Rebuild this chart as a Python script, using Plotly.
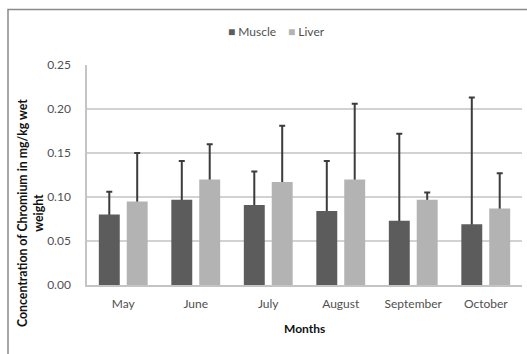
import plotly.graph_objects as go

months = ["May", "June", "July", "August", "September", "October"]
muscle = [0.080, 0.097, 0.091, 0.084, 0.073, 0.069]
muscle_err = [0.026, 0.044, 0.038, 0.057, 0.099, 0.144]
liver = [0.095, 0.120, 0.117, 0.120, 0.097, 0.087]
liver_err = [0.055, 0.040, 0.064, 0.086, 0.008, 0.040]
y_ticks = [0.00, 0.05, 0.10, 0.15, 0.20, 0.25]

MUSCLE_COLOR = "#5c5c5c"
LIVER_COLOR = "#b3b3b3"
ERR_COLOR = "#3c3c3c"
FONT = "Lato, 'Open Sans', sans-serif"

fig = go.Figure()
for name, vals, errs, color in [
    ("Muscle", muscle, muscle_err, MUSCLE_COLOR),
    ("Liver", liver, liver_err, LIVER_COLOR),
]:
    # upper-only error whiskers; the short lower stub sits inside the bar drawn over it
    fig.add_trace(go.Bar(
        x=months, y=vals, name=name + " error", offsetgroup=name,
        marker=dict(color="rgba(0,0,0,0)", line=dict(width=0)),
        error_y=dict(type="data", symmetric=False, array=errs,
                     arrayminus=[0.006] * len(errs),
                     color=ERR_COLOR, thickness=2, width=3),
        showlegend=False, hoverinfo="skip",
    ))
    fig.add_trace(go.Bar(
        x=months, y=vals, name=name, offsetgroup=name,
        marker=dict(color=color, line=dict(width=0)),
        showlegend=False,
    ))

W, H = 527, 354
L, R, T, B = 87, 5, 65, 69
pw, ph = W - L - R, H - T - B

def px(x):
    return (x - L) / pw

def py(y):
    return (H - B - y) / ph

fig.update_layout(
    width=W, height=H,
    margin=dict(l=L, r=R, t=T, b=B),
    paper_bgcolor="white", plot_bgcolor="white",
    barmode="group", bargap=0.23, bargroupgap=0.25,
    font=dict(family=FONT, size=12, color="#505050"),
    xaxis=dict(showgrid=False, showline=True, linecolor="#c4c4c4", linewidth=1.5,
               ticks="", ticklabelstandoff=7,
               tickfont=dict(size=12, color="#505050")),
    yaxis=dict(range=[0, 0.25], tickvals=y_ticks, tickformat=".2f",
               showgrid=True, gridcolor="#d2d2d2", gridwidth=1.5,
               showline=True, linecolor="#c4c4c4", linewidth=1.5,
               zeroline=False, ticks="", ticklabelstandoff=12,
               tickfont=dict(size=12, color="#505050")),
)

# chart frame
fig.add_shape(type="rect", xref="paper", yref="paper",
              x0=px(8), x1=px(540), y0=py(370), y1=py(9.5),
              line=dict(color="#8a8a8a", width=1.5), fillcolor="rgba(0,0,0,0)",
              layer="below")

# legend
legend_items = [("Muscle", MUSCLE_COLOR, 226), ("Liver", LIVER_COLOR, 286)]
for name, color, x0 in legend_items:
    fig.add_annotation(
        xref="paper", yref="paper", x=px(x0), y=py(31),
        xanchor="left", yanchor="middle", showarrow=False,
        text=f"<span style='color:{color};font-size:12px'>■</span> {name}",
        font=dict(family=FONT, size=12, color="#505050"),
    )

# axis titles
fig.add_annotation(
    xref="paper", yref="paper", x=px(30), y=py(213),
    xanchor="center", yanchor="middle", showarrow=False, textangle=-90,
    text="<b>Concentration of Chromium in mg/kg wet<br>weight</b>",
    font=dict(family=FONT, size=12.3, color="#111111"),
)
fig.add_annotation(
    xref="paper", yref="paper", x=px(304), y=py(328),
    xanchor="center", yanchor="middle", showarrow=False,
    text="<b>Months</b>",
    font=dict(family=FONT, size=12, color="#111111"),
)

fig.write_html("out.html")
